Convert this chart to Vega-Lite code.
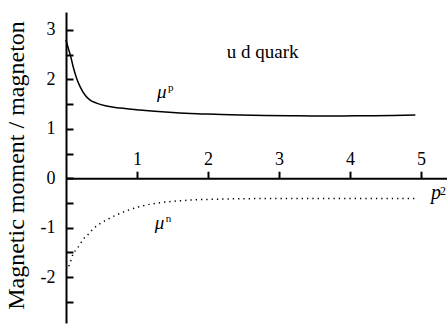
{
  "$schema": "https://vega.github.io/schema/vega-lite/v6.json",
  "width": 381,
  "height": 311,
  "autosize": {"type": "none"},
  "padding": {"left": 66, "top": 12, "right": 0, "bottom": 4},
  "background": "white",
  "config": {"view": {"stroke": null}, "font": "'Liberation Serif', 'DejaVu Serif', serif"},
  "resolve": {"scale": {"y": "shared", "x": "shared"}, "axis": {"y": "independent"}},
  "datasets": {
    "mup": [
      {"p2": 0.0, "mu": 2.8},
      {"p2": 0.03, "mu": 2.64},
      {"p2": 0.06, "mu": 2.5},
      {"p2": 0.1, "mu": 2.26},
      {"p2": 0.15, "mu": 2.02},
      {"p2": 0.2, "mu": 1.85},
      {"p2": 0.27, "mu": 1.68},
      {"p2": 0.34, "mu": 1.58},
      {"p2": 0.43, "mu": 1.52},
      {"p2": 0.57, "mu": 1.46},
      {"p2": 0.76, "mu": 1.42},
      {"p2": 1.04, "mu": 1.38},
      {"p2": 1.4, "mu": 1.34},
      {"p2": 1.75, "mu": 1.31},
      {"p2": 2.1, "mu": 1.295},
      {"p2": 2.45, "mu": 1.28},
      {"p2": 2.8, "mu": 1.27},
      {"p2": 3.15, "mu": 1.265},
      {"p2": 3.5, "mu": 1.26},
      {"p2": 3.86, "mu": 1.26},
      {"p2": 4.2, "mu": 1.265},
      {"p2": 4.6, "mu": 1.27},
      {"p2": 4.92, "mu": 1.28}
    ],
    "mun": [
      {"p2": 0.04, "mu": -1.78},
      {"p2": 0.07, "mu": -1.66},
      {"p2": 0.1, "mu": -1.53},
      {"p2": 0.15, "mu": -1.44},
      {"p2": 0.2, "mu": -1.33},
      {"p2": 0.24, "mu": -1.24},
      {"p2": 0.31, "mu": -1.14},
      {"p2": 0.36, "mu": -1.06},
      {"p2": 0.42, "mu": -0.98},
      {"p2": 0.49, "mu": -0.91},
      {"p2": 0.55, "mu": -0.86},
      {"p2": 0.85, "mu": -0.66},
      {"p2": 1.14, "mu": -0.54},
      {"p2": 1.42, "mu": -0.48},
      {"p2": 1.79, "mu": -0.44},
      {"p2": 2.26, "mu": -0.42},
      {"p2": 3.0, "mu": -0.41},
      {"p2": 4.0, "mu": -0.41},
      {"p2": 4.96, "mu": -0.41}
    ],
    "greek": [
      {"label": "μ", "sup": "p", "x": 1.28, "y": 1.62},
      {"label": "μ", "sup": "n", "x": 1.25, "y": -1.03}
    ],
    "title": [
      {"label": "u d quark", "x": 2.77, "y": 2.43}
    ],
    "axislabel": [
      {"label": "p", "sup": "2", "x": 5.14, "y": -0.42}
    ]
  },
  "layer": [
    {
      "data": {"name": "mup"},
      "mark": {"type": "line", "color": "black", "strokeWidth": 1.5, "interpolate": "monotone"},
      "encoding": {
        "x": {
          "field": "p2", "type": "quantitative",
          "scale": {"domain": [0, 5.366], "nice": false, "zero": false},
          "axis": {
            "orient": "top", "offset": -166.2, "values": [1, 2, 3, 4, 5],
            "labelExpr": "'' + datum.value",
            "title": null, "grid": false,
            "domainColor": "black", "domainWidth": 2,
            "tickColor": "black", "tickWidth": 2, "tickSize": 7,
            "labelFont": "'Liberation Serif', 'DejaVu Serif', serif", "labelFontSize": 18, "labelColor": "black",
            "labelPadding": 3, "labelFlush": false, "labelOverlap": false
          }
        },
        "y": {
          "field": "mu", "type": "quantitative",
          "scale": {"domain": [-2.93, 3.364], "nice": false, "zero": false},
          "axis": {
            "orient": "left",
            "values": [-2, -1, 0, 1, 2, 3],
            "labelExpr": "'' + datum.value",
            "grid": false, "ticks": false,
            "domainColor": "black", "domainWidth": 2,
            "labelFont": "'Liberation Serif', 'DejaVu Serif', serif", "labelFontSize": 18, "labelColor": "black",
            "labelPadding": 11, "labelFlush": false, "labelOverlap": false,
            "title": "Magnetic moment / magneton",
            "titleFont": "'Liberation Serif', 'DejaVu Serif', serif", "titleFontSize": 24, "titleFontWeight": "normal",
            "titleColor": "black", "titleX": -43, "titleY": 153, "titleAngle": 270,
            "titleAlign": "center", "titleBaseline": "alphabetic"
          }
        }
      }
    },
    {
      "data": {"name": "mun"},
      "mark": {"type": "line", "color": "black", "strokeWidth": 1.5, "strokeDash": [1.3, 4], "interpolate": "monotone"},
      "encoding": {
        "x": {"field": "p2", "type": "quantitative"},
        "y": {
          "field": "mu", "type": "quantitative",
          "axis": {
            "orient": "right", "offset": -381,
            "values": [-2.5, -2, -1.5, -1, -0.5, 0, 0.5, 1, 1.5, 2, 2.5, 3],
            "labels": false, "domain": false, "grid": false, "title": null,
            "tickColor": "black", "tickWidth": 2, "tickSize": 7
          }
        }
      }
    },
    {
      "data": {"name": "greek"},
      "mark": {"type": "text", "font": "'Liberation Serif', 'DejaVu Serif', serif", "fontSize": 19, "fontStyle": "italic", "align": "left", "baseline": "alphabetic", "color": "black"},
      "encoding": {
        "x": {"field": "x", "type": "quantitative"},
        "y": {"field": "y", "type": "quantitative", "axis": null},
        "text": {"field": "label"}
      }
    },
    {
      "data": {"name": "greek"},
      "mark": {"type": "text", "font": "'Liberation Serif', 'DejaVu Serif', serif", "fontSize": 11, "align": "left", "baseline": "alphabetic", "color": "black", "dx": 11, "dy": -7},
      "encoding": {
        "x": {"field": "x", "type": "quantitative"},
        "y": {"field": "y", "type": "quantitative", "axis": null},
        "text": {"field": "sup"}
      }
    },
    {
      "data": {"name": "title"},
      "mark": {"type": "text", "font": "'Liberation Serif', 'DejaVu Serif', serif", "fontSize": 19, "align": "center", "baseline": "alphabetic", "color": "black"},
      "encoding": {
        "x": {"field": "x", "type": "quantitative"},
        "y": {"field": "y", "type": "quantitative", "axis": null},
        "text": {"field": "label"}
      }
    },
    {
      "data": {"name": "axislabel"},
      "mark": {"type": "text", "font": "'Liberation Serif', 'DejaVu Serif', serif", "fontSize": 20, "fontStyle": "italic", "align": "left", "baseline": "alphabetic", "color": "black"},
      "encoding": {
        "x": {"field": "x", "type": "quantitative"},
        "y": {"field": "y", "type": "quantitative", "axis": null},
        "text": {"field": "label"}
      }
    },
    {
      "data": {"name": "axislabel"},
      "mark": {"type": "text", "font": "'Liberation Serif', 'DejaVu Serif', serif", "fontSize": 12, "align": "left", "baseline": "alphabetic", "color": "black", "dx": 9, "dy": -4},
      "encoding": {
        "x": {"field": "x", "type": "quantitative"},
        "y": {"field": "y", "type": "quantitative", "axis": null},
        "text": {"field": "sup"}
      }
    }
  ]
}
